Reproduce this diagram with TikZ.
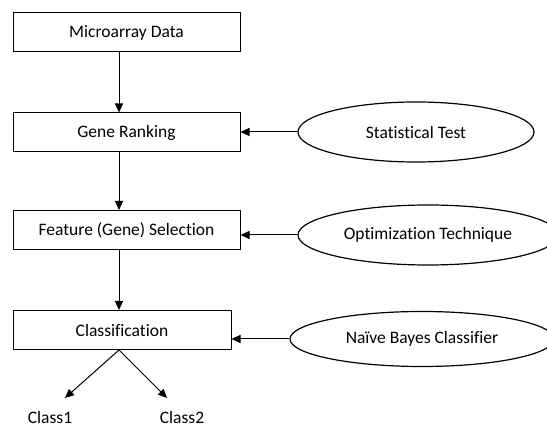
\documentclass[tikz,border=0pt]{standalone}
\usepackage{fontspec}
\setmainfont{Carlito}[Ligatures=NoCommon]
\usetikzlibrary{arrows.meta,shapes.geometric}
\begin{document}
\begin{tikzpicture}[x=1pt,y=-1pt,
    box/.style={draw,line width=1pt,minimum height=39pt,inner sep=0pt},
    oval/.style={draw,ellipse,line width=1.2pt,inner sep=0pt},
    >={Triangle[length=9pt,width=8pt]},
    font=\fontsize{17.5}{20}\selectfont]
  \useasboundingbox (0,0) rectangle (547,430);
  \draw
    (126.5,32.5) node[box,minimum width=227pt] (data){Microarray Data}
    (126.5,132.5) node[box,minimum width=227pt] (rank){Gene Ranking}
    (126.5,230) node[box,minimum width=227pt] (select){Feature (Gene) Selection}
    (122,330) node[box,minimum width=218pt] (classify){Classification}
    (416,132) node[oval,minimum width=236pt,minimum height=60pt] (stat){Statistical Test}
    (428,235) node[oval,minimum width=260pt,minimum height=60pt] (optim){Optimization Technique}
    (422,339) node[oval,minimum width=264pt,minimum height=55pt] (bayes){Naïve Bayes Classifier}
    (50,417) node (class1){Class1}
    (182,417) node (class2){Class2};
  \coordinate (tip1) at (65,398);
  \coordinate (tip2) at (167,398);
  \begin{scope}[->,line width=1pt]
    \draw ([xshift=-7.5pt]data.south) to ([xshift=-7.5pt]rank.north);
    \draw ([xshift=-7.5pt]rank.south) to ([xshift=-7.5pt]select.north);
    \draw ([xshift=-7.5pt]select.south) to ([xshift=-3pt]classify.north);
    \draw (stat.west) to (stat.west -| rank.east);
    \draw (optim.west) to (optim.west -| select.east);
    \draw (bayes.west) to (bayes.west -| classify.east);
    \draw ([xshift=-3pt]classify.south) to (tip1);
    \draw ([xshift=-3pt]classify.south) to (tip2);
  \end{scope}
\end{tikzpicture}
\end{document}
